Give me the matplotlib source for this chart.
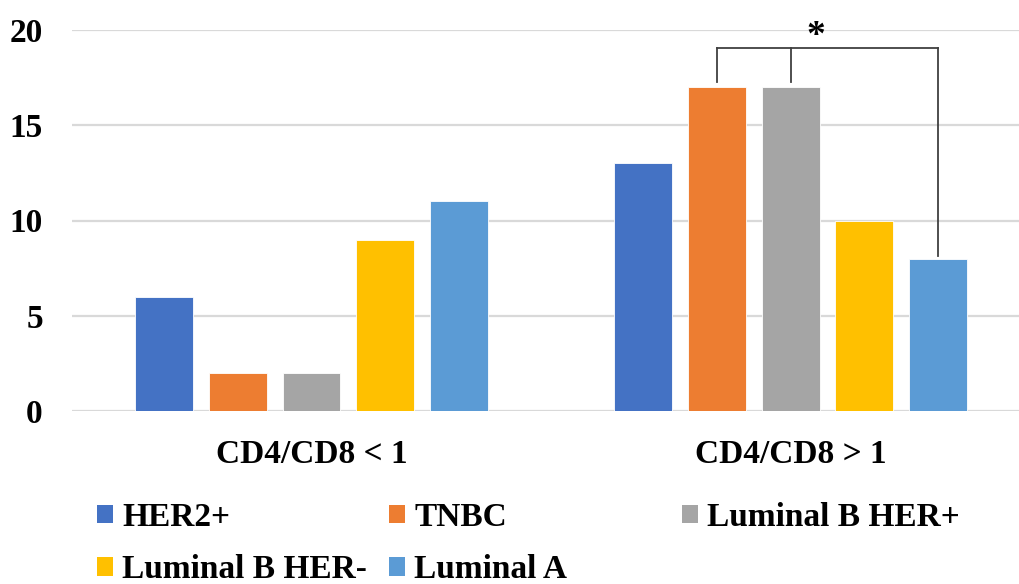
import matplotlib
matplotlib.use("Agg")
import matplotlib.pyplot as plt
from matplotlib.patches import Patch
import numpy as np

plt.rcParams['font.family'] = ['Liberation Serif', 'DejaVu Serif']
plt.rcParams['font.weight'] = 'bold'

categories = ["CD4/CD8 < 1", "CD4/CD8 > 1"]
subtypes = ["HER2+", "TNBC", "Luminal B HER+", "Luminal B HER-", "Luminal A"]
colors = ["#4472C4", "#ED7D31", "#A5A5A5", "#FFC000", "#5B9BD5"]
counts = {
    "HER2+": [6, 13],
    "TNBC": [2, 17],
    "Luminal B HER+": [2, 17],
    "Luminal B HER-": [9, 10],
    "Luminal A": [11, 8],
}
yticks = [0, 5, 10, 15, 20]

fig = plt.figure(figsize=(10.2, 5.84), dpi=100)
ax = fig.add_axes([72 / 1020, 1 - 411 / 584, 1 - 72 / 1020, (411 - 30) / 584])

x = np.arange(len(categories))
step = 0.154
width = 0.121
bars = {}
for i, (name, col) in enumerate(zip(subtypes, colors)):
    bars[name] = ax.bar(x + (i - 2) * step, counts[name], width, color=col,
                        edgecolor="white", linewidth=0.6, label=name, zorder=3)

ax.set_ylim(0, 20)
ax.set_xlim(-0.5, 1.479)
ax.set_yticks(yticks)
ax.set_yticklabels([str(v) for v in yticks], fontsize=24, fontweight='bold')
ax.set_xticks(x)
ax.set_xticklabels(categories, fontsize=24, fontweight='bold')
ax.tick_params(axis='y', length=0, pad=21)
ax.tick_params(axis='x', length=0, pad=20)
ax.grid(axis='y', color="#d9d9d9", linewidth=1.6, zorder=0)
for s in ax.spines.values():
    s.set_visible(False)

# significance bracket over TNBC, Luminal B HER+ and Luminal A in the second group
g = 1
xl = g + (1 - 2) * step
xm = g + (2 - 2) * step
xr = g + (4 - 2) * step
top = 19.05
gap = 0.25
bc = "#404040"
ax.plot([xl, xl], [counts["TNBC"][g] + gap, top], color=bc, lw=1.3, zorder=4)
ax.plot([xm, xm], [counts["Luminal B HER+"][g] + gap, top], color=bc, lw=1.3, zorder=4)
ax.plot([xr, xr], [counts["Luminal A"][g] + 0.15, top], color=bc, lw=1.3, zorder=4)
ax.plot([xl, xr], [top, top], color=bc, lw=1.3, zorder=4)
ax.text(1.052, 19.65, "*", ha="center", va="center", fontsize=27, fontweight='bold')

# legend laid out in three equal-width columns
handle_kw = dict(frameon=False, fontsize=24, handlelength=0.48, handleheight=0.48,
                 handletextpad=0.28, labelspacing=0.64, borderpad=0, borderaxespad=0)
columns = [["HER2+", "Luminal B HER-"], ["TNBC", "Luminal A"], ["Luminal B HER+"]]
col_x = [97, 389, 682]
for names, cx in zip(columns, col_x):
    handles = [Patch(facecolor=colors[subtypes.index(n)], edgecolor="none") for n in names]
    leg = fig.legend(handles, names, loc="upper left",
                     bbox_to_anchor=(cx / 1020, 1 - 502 / 584), **handle_kw)
    for t in leg.get_texts():
        t.set_fontweight('bold')

fig.savefig("out.png", dpi=100)
